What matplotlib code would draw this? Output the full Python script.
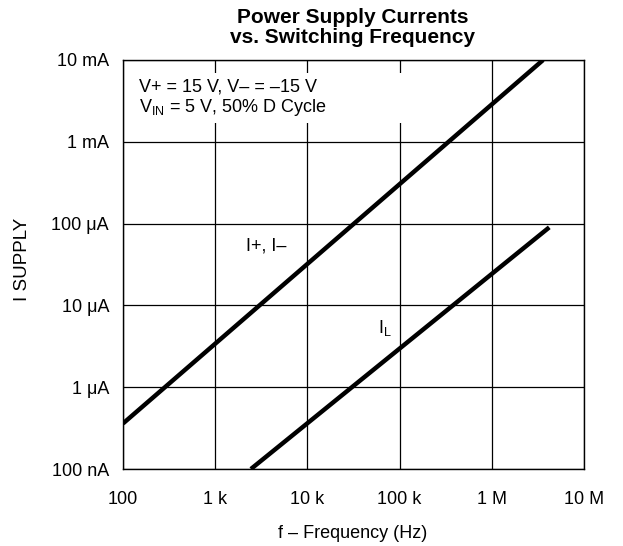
import numpy as np
import matplotlib
matplotlib.use("Agg")
import matplotlib.pyplot as plt
from matplotlib.patches import Rectangle

plt.rcParams['font.family'] = ['Liberation Sans', 'DejaVu Sans']
plt.rcParams['mathtext.fontset'] = 'custom'
plt.rcParams['mathtext.rm'] = 'Liberation Sans'

# curve end points (Hz, A)
f_supply = np.array([100, 3.6e6])
i_supply = np.array([3.6e-7, 1.0e-2])
f_logic = np.array([2.44e3, 4.2e6])
i_logic = np.array([1.0e-7, 9.0e-5])

x_ticks = [1e2, 1e3, 1e4, 1e5, 1e6, 1e7]
x_labels = ["100", "1 k", "10 k", "100 k", "1 M", "10 M"]
y_ticks = [1e-7, 1e-6, 1e-5, 1e-4, 1e-3, 1e-2]
y_labels = ["100 nA", "1 μA", "10 μA", "100 μA", "1 mA", "10 mA"]

W, H = 623, 546
fig = plt.figure(figsize=(W / 100, H / 100), dpi=100)
ax = fig.add_axes([123 / W, (H - 469) / H, (584 - 123) / W, (469 - 60) / H])

ax.set_xscale("log")
ax.set_yscale("log")
ax.set_xlim(1e2, 1e7)
ax.set_ylim(1e-7, 1e-2)
ax.set_xticks(x_ticks)
ax.set_xticklabels(x_labels)
ax.set_yticks(y_ticks)
ax.set_yticklabels(y_labels)
ax.minorticks_off()
ax.tick_params(length=0, labelsize=13, pad=10)
ax.tick_params(axis="x", pad=16)
ax.grid(True, color="black", lw=0.9)
for s in ax.spines.values():
    s.set_linewidth(1.0)

# white box behind the conditions text
ax.add_patch(Rectangle((0.004, 0.846), 0.64, 0.122, transform=ax.transAxes,
                       facecolor="white", edgecolor="none", zorder=2))
ax.text(0.035, 0.934, "V+ = 15 V, V– = –15 V", transform=ax.transAxes,
        fontsize=13, va="center", zorder=3)
ax.text(0.035, 0.885, r"V$_{\mathrm{IN}}$ = 5 V, 50% D Cycle", transform=ax.transAxes,
        fontsize=13, va="center", zorder=3)

ax.plot(f_supply, i_supply, color="black", lw=3.2, solid_capstyle="butt", zorder=4)
ax.plot(f_logic, i_logic, color="black", lw=3.2, solid_capstyle="butt", zorder=4)

ax.text(2.16e3, 5.3e-5, "I+, I–", fontsize=13, va="center", zorder=3)
ax.text(5.8e4, 5.3e-6, r"I$_{\mathrm{L}}$", fontsize=13, va="center", zorder=3)

fig.text(353 / W, 1 - 27.5 / H, "Power Supply Currents\nvs. Switching Frequency",
         fontsize=15, fontweight="bold", ha="center", va="center", linespacing=1.1)
fig.text(353 / W, 1 - 534 / H, "f – Frequency (Hz)", fontsize=13,
         ha="center", va="center")
fig.text(22.5 / W, 1 - 259 / H, "I SUPPLY", rotation=90, fontsize=13.5,
         ha="center", va="center")

fig.savefig("out.png", dpi=100)
